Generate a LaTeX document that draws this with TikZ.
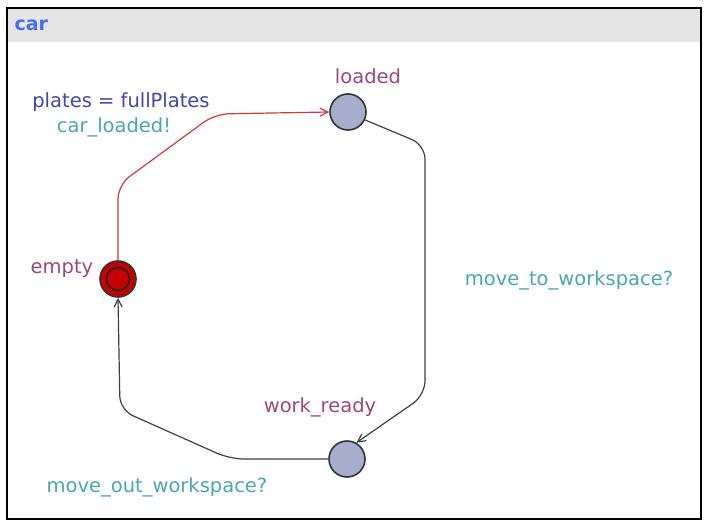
\documentclass[tikz,border=0pt]{standalone}
\usepackage{fontspec}
\setmainfont{DejaVu Sans}
\usetikzlibrary{arrows.meta}
\definecolor{locname}{HTML}{9A4A78}
\definecolor{sync}{HTML}{4AA8AC}
\definecolor{guard}{HTML}{4545AE}
\definecolor{locfill}{HTML}{A6AECB}
\definecolor{initred}{HTML}{C80000}
\definecolor{rededge}{HTML}{D03A3A}
\definecolor{hdr}{HTML}{E5E5E5}
\definecolor{title}{HTML}{4A6CF0}
\begin{document}
\begin{tikzpicture}[x=1pt,y=-1pt,
  loc/.style={circle,draw=black!80,line width=1.6pt,fill=locfill,minimum size=36pt,inner sep=0pt},
  initloc/.style={loc,fill=initred},
  lname/.style={text=locname,font=\fontsize{19.5}{22}\selectfont},
  synclbl/.style={text=sync,font=\fontsize{19.5}{22}\selectfont},
  guardlbl/.style={text=guard,font=\fontsize{19.5}{22}\selectfont},
  edge/.style={draw=black!75,line width=1.2pt,-{Straight Barb[length=8pt,width=8pt]},rounded corners=14pt},
  redge/.style={edge,draw=rededge}]
\useasboundingbox (0,0) rectangle (708,526);
\fill[white] (0,0) rectangle (708,526);
\fill[hdr] (7,8) rectangle (701,42);
\draw[line width=2pt] (7,8) rectangle (701,519);
\node[anchor=west,text=title,font=\bfseries\fontsize{19}{21}\selectfont] (t) at (11,25) {car};
% locations
\node[loc] (loaded) at (348,112) {};
\node[initloc] (empty) at (118,279) {};
\draw[line width=1.8pt,draw=black!85] (empty.center) circle (11.5pt);
\node[loc] (work) at (347,459) {};
\node[lname] (lloaded) at (368,76) {loaded};
\node[lname] (lempty) at (62,269) {empty};
\node[lname] (lwork) at (320,407) {work\_ready};
% edges
\draw[redge] (empty.north) -- (118,185) -- (215,114) -- (loaded.west);
\draw[edge] (loaded.-25) -- (425,145) -- (425,395) -- (work.60);
\draw[edge] (work.west) -- (230,459) -- (120,410) -- (empty.south);
% labels
\node[guardlbl] (g1) at (121,102) {plates = fullPlates};
\node[synclbl] (s1) at (114,127) {car\_loaded!};
\node[synclbl] (s2) at (569,280) {move\_to\_workspace?};
\node[synclbl] (s3) at (157,487) {move\_out\_workspace?};
\end{tikzpicture}
\end{document}
